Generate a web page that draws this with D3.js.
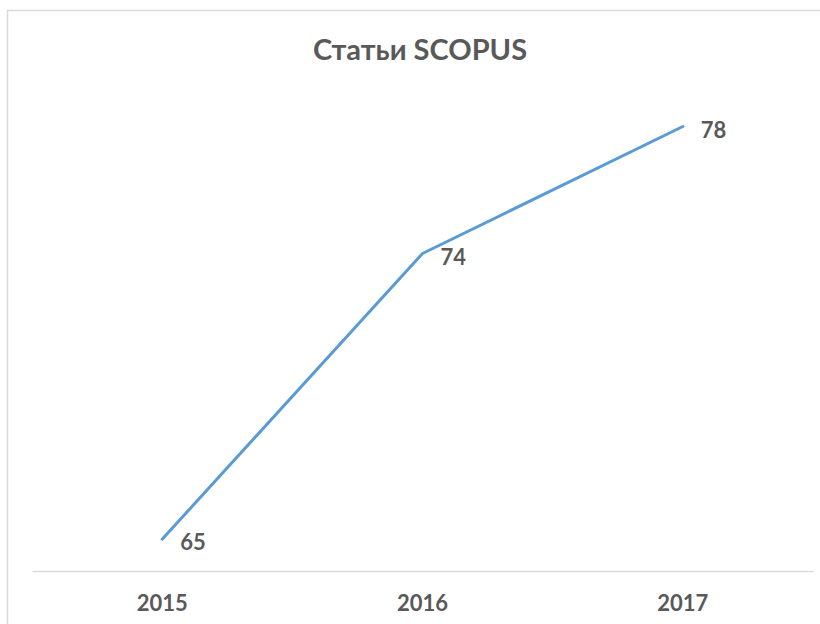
<!DOCTYPE html>
<html>
<head>
<meta charset="utf-8">
<script src="https://cdn.jsdelivr.net/npm/d3@7"></script>
<style>
  body { margin: 0; background: #fff; }
  svg text { font-family: Lato, "Open Sans", sans-serif; font-weight: bold; fill: #595959; }
</style>
</head>
<body>
<div id="chart"></div>
<script>
// chart data
const years = ["2015", "2016", "2017"];
const articles = [65, 74, 78];
const chartTitle = "Статьи SCOPUS";

const WIDTH = 820, HEIGHT = 624;
const margin = {top: 63, right: 7, bottom: 53, left: 32};

let svg = d3.select("#chart").append("svg")
    .attr("width", WIDTH).attr("height", HEIGHT);

// outer frame of the chart area (cropped on right and bottom)
svg.append("rect")
    .attr("x", 7.5).attr("y", 10.5)
    .attr("width", WIDTH).attr("height", HEIGHT)
    .attr("fill", "none").attr("stroke", "#d9d9d9").attr("stroke-width", 1.5);

let xScale = d3.scaleBand().domain(years)
    .range([margin.left, WIDTH - margin.right]);
let yScale = d3.scaleLinear().domain([64, 80])
    .range([HEIGHT - margin.bottom, margin.top]);

// title
svg.append("text")
    .attr("x", 420).attr("y", 60)
    .attr("text-anchor", "middle")
    .attr("font-size", 29)
    .text(chartTitle);

// x axis
let xAxis = svg.append("g")
    .attr("transform", "translate(0," + (HEIGHT - margin.bottom) + ")")
    .call(d3.axisBottom(xScale).tickSize(0).tickPadding(24));
xAxis.select(".domain").attr("stroke", "#d9d9d9").attr("stroke-width", 1.5);
xAxis.selectAll("text")
    .attr("font-size", 22)
    .attr("font-family", "Lato, 'Open Sans', sans-serif")
    .attr("font-weight", "bold")
    .attr("fill", "#595959");

let pts = years.map((y, i) => ({year: y, value: articles[i]}));
let cx = d => xScale(d.year) + xScale.bandwidth() / 2;

let line = d3.line()
    .x(cx)
    .y(d => yScale(d.value));

svg.append("path")
    .datum(pts)
    .attr("d", line)
    .attr("fill", "none")
    .attr("stroke", "#5b9bd5")
    .attr("stroke-width", 3)
    .attr("stroke-linejoin", "round")
    .attr("stroke-linecap", "round");

// data labels
svg.selectAll(".dlabel")
    .data(pts).enter().append("text")
    .attr("class", "dlabel")
    .attr("x", d => cx(d) + 18)
    .attr("y", d => yScale(d.value) + 11)
    .attr("font-size", 22)
    .text(d => d.value);
</script>
</body>
</html>
